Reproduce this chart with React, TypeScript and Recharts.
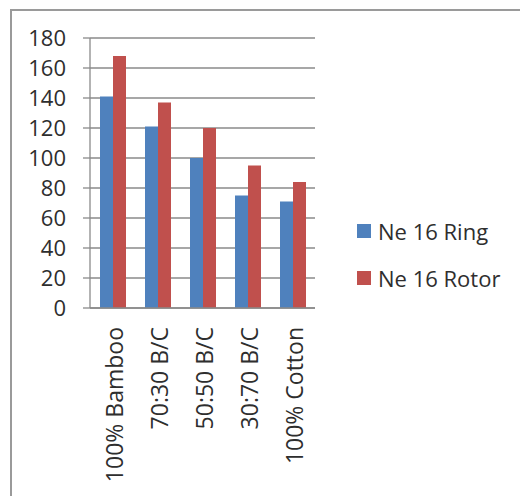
import React from 'react';
import { BarChart, Bar, XAxis, YAxis, CartesianGrid, Legend } from 'recharts';

const categories = ['100% Bamboo', '70:30 B/C', '50:50 B/C', '30:70 B/C', '100% Cotton'];
const ringValues = [141, 121, 100, 75, 71];
const rotorValues = [168, 137, 120, 95, 84];
const seriesNames = ['Ne 16 Ring', 'Ne 16 Rotor'];
const seriesColors = ['#4F81BD', '#C0504D'];
const yTicks = [0, 20, 40, 60, 80, 100, 120, 140, 160, 180];

const data = categories.map((c, i) => ({ name: c, ring: ringValues[i], rotor: rotorValues[i] }));

const FONT = '"Open Sans", "Liberation Sans", sans-serif';
const TEXT = '#2e2e2e';
const GRID = '#8a8a8a';

const XTick = (props: any) => {
  const { x, y, payload } = props;
  const ty = y + 11;
  return (
    <text
      x={x + 1}
      y={ty}
      transform={`rotate(-90 ${x + 1} ${ty})`}
      textAnchor="end"
      dominantBaseline="central"
      fill={TEXT}
      fontSize={23}
      fontFamily={FONT}
    >
      {payload.value}
    </text>
  );
};

const LegendContent = (props: any) => {
  const payload = props.payload || [];
  return (
    <div style={{ fontFamily: FONT }}>
      {payload.map((p: any, i: number) => (
        <div key={i} style={{ height: 47, display: 'flex', alignItems: 'center' }}>
          <div style={{ width: 14, height: 14, background: p.color, marginRight: 7 }} />
          <span style={{ fontSize: 22, color: TEXT, whiteSpace: 'pre' }}>{p.value}</span>
        </div>
      ))}
    </div>
  );
};

export default function App() {
  return (
    <div style={{ position: 'fixed', left: 0, top: 0, width: 520, height: 496, background: '#fff', overflow: 'hidden' }}>
      <div
        style={{
          position: 'absolute',
          left: 10,
          top: 9,
          width: 540,
          height: 520,
          border: '2px solid #9a9a9a',
          boxSizing: 'border-box',
        }}
      />
      <div style={{ position: 'absolute', left: 0, top: 0 }}>
        <BarChart
          width={520}
          height={496}
          data={data}
          margin={{ top: 38, right: 205, bottom: 0, left: 0 }}
          barSize={13}
          barGap={0}
        >
          <CartesianGrid horizontal vertical={false} stroke={GRID} strokeWidth={1.3} />
          <XAxis
            dataKey="name"
            height={188}
            interval={0}
            tickLine={false}
            axisLine={{ stroke: GRID, strokeWidth: 1.3 }}
            tick={<XTick />}
          />
          <YAxis
            width={90}
            domain={[0, 180]}
            ticks={yTicks}
            interval={0}
            tickSize={7}
            tickMargin={17}
            tickLine={{ stroke: GRID, strokeWidth: 1.3 }}
            axisLine={{ stroke: GRID, strokeWidth: 1.3 }}
            tick={{ fill: TEXT, fontSize: 22, fontFamily: FONT }}
          />
          <Legend
            layout="vertical"
            align="center"
            verticalAlign="middle"
            content={<LegendContent />}
            wrapperStyle={{ position: 'absolute', left: 357, top: 207, width: 160, height: 100 }}
          />
          <Bar dataKey="ring" name={seriesNames[0]} fill={seriesColors[0]} isAnimationActive={false} />
          <Bar dataKey="rotor" name={seriesNames[1]} fill={seriesColors[1]} isAnimationActive={false} />
        </BarChart>
      </div>
    </div>
  );
}
